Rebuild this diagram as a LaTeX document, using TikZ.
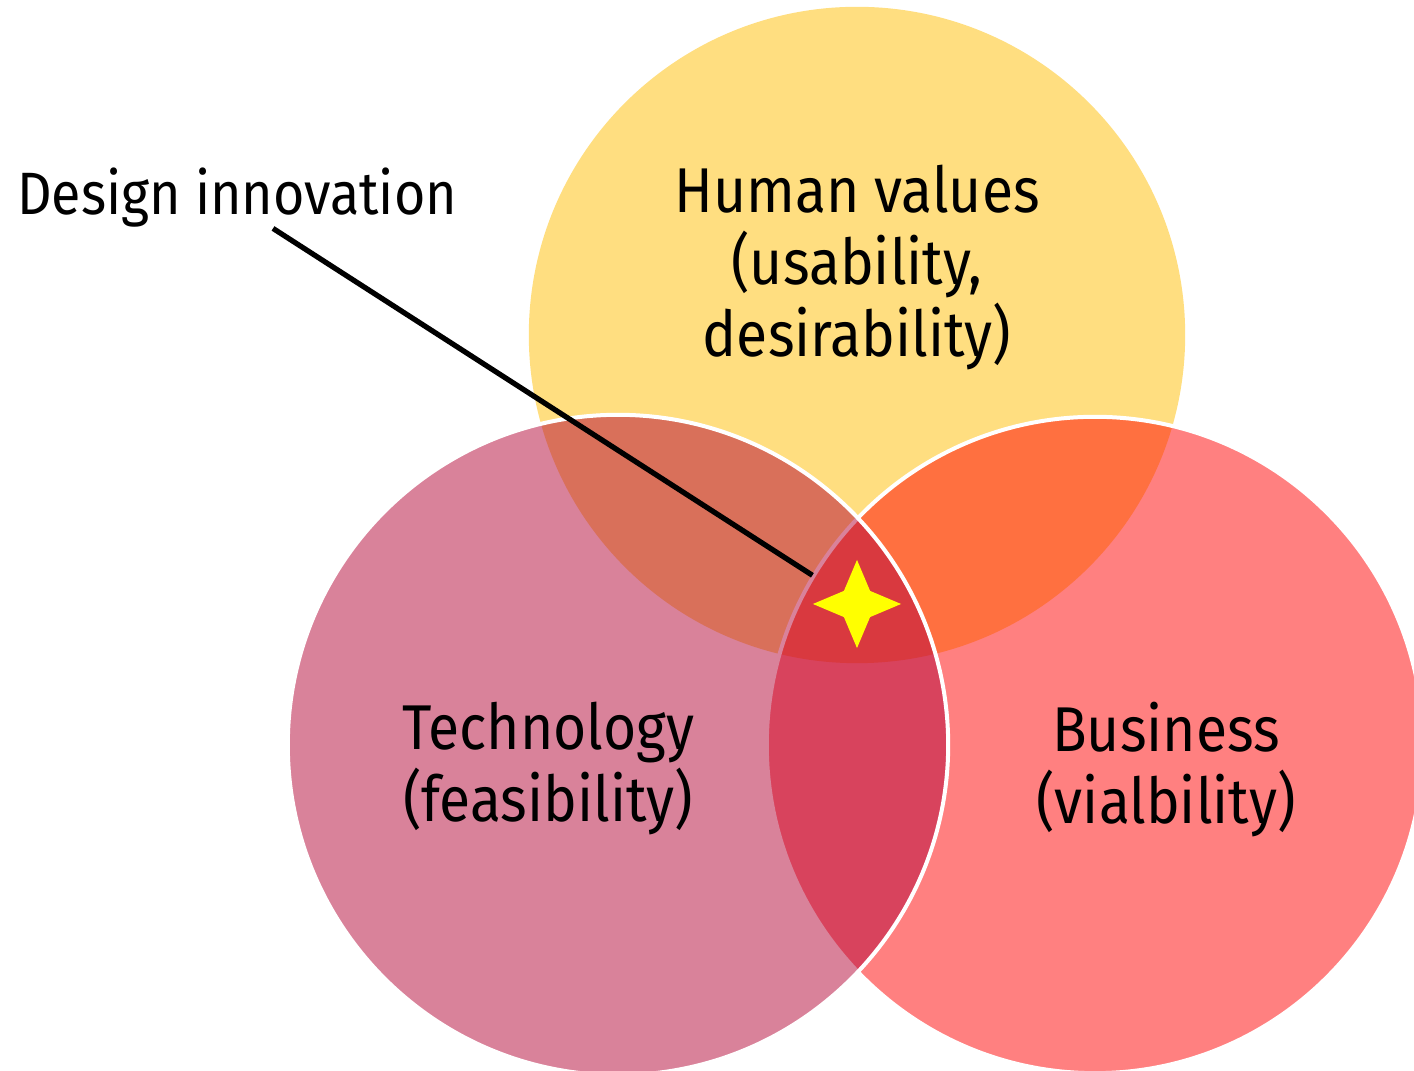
\documentclass[tikz,border=0pt]{standalone}
\usepackage{fontspec}
\setmainfont{Fira Sans}[FakeStretch=0.9]
\usetikzlibrary{shapes.geometric}
\definecolor{humanyellow}{HTML}{FFDE80}
\definecolor{techpink}{HTML}{D9829A}
\definecolor{bizred}{HTML}{FF8080}
\definecolor{humanbiz}{HTML}{FF7040}
\definecolor{humantech}{HTML}{D9705A}
\definecolor{techbiz}{HTML}{D8435D}
\definecolor{allthree}{HTML}{D9393F}
\definecolor{sparkle}{HTML}{FFFF00}
\def\humancircle{(857,335) circle (3.28cm)}
\def\techcircle{(618,745) circle (3.30cm)}
\def\bizcircle{(1095,745) circle (3.28cm)}
\tikzset{
  ring/.style={draw=white, line width=0.04cm},
  venntext/.style={align=center, inner sep=0pt,
    font=\fontsize{18}{20.5}\selectfont},
  leadtext/.style={inner sep=0pt, font=\fontsize{17}{19}\selectfont},
  calloutline/.style={black, line width=1.5pt}
}
\begin{document}
\begin{tikzpicture}[x=0.01cm, y=-0.01cm]
  \useasboundingbox (0,0) rectangle (1414,1071);
  \clip (0,0) rectangle (1414,1071);
  \fill[humanyellow] \humancircle;
  \fill[bizred] \bizcircle;
  \begin{scope}
    \clip \humancircle;
    \fill[humanbiz] \bizcircle;
  \end{scope}
  \draw[ring] \bizcircle;
  \fill[techpink] \techcircle;
  \begin{scope}
    \clip \techcircle;
    \fill[humantech] \humancircle;
    \fill[techbiz] \bizcircle;
    \begin{scope}
      \clip \bizcircle;
      \fill[allthree] \humancircle;
    \end{scope}
    \draw[techpink, line width=0.04cm] \bizcircle;
  \end{scope}
  \draw[ring] \techcircle;

  \node[star, star points=4, star point ratio=0.42, shape border rotate=45,
    fill=sparkle, minimum size=0.37cm, inner sep=0pt] (spark) at (857,604) {};

  \node[venntext, anchor=base] (human) at (857,357)
    {Human values\\(usability,\\desirability)};
  \node[venntext, anchor=base] (tech) at (548,822)
    {Technology\\(feasibility)};
  \node[venntext, anchor=base] (biz) at (1166,824)
    {Business\\(vialbility)};
  \node[leadtext, anchor=base] (innov) at (237,215) {Design innovation};

  \draw[calloutline, shorten >=0.53cm] ([xshift=0.36cm]innov.south) -- (spark.center);
\end{tikzpicture}
\end{document}
